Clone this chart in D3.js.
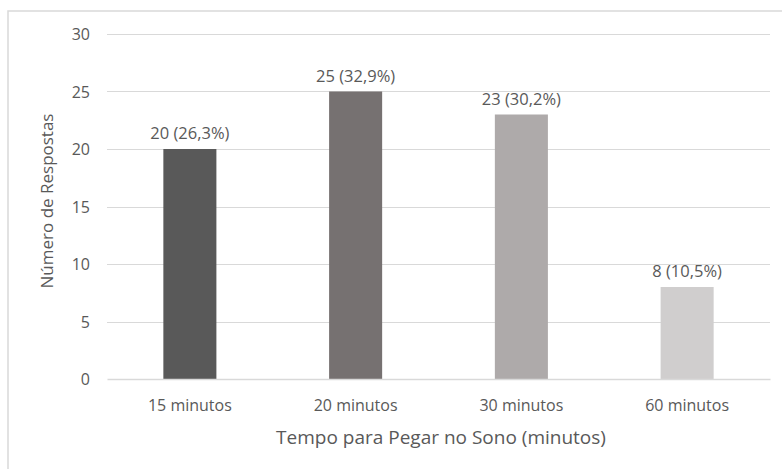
<!DOCTYPE html>
<html>
<head>
<meta charset="utf-8">
<script src="https://cdn.jsdelivr.net/npm/d3@7"></script>
<style>
  html, body { margin: 0; padding: 0; background: #fff; }
  svg { display: block; }
  text { font-family: "Open Sans", Lato, sans-serif; fill: #595959; }
</style>
</head>
<body>
<svg id="chart" width="782" height="469"></svg>
<script>
// Tempo para pegar no sono — número de respostas por categoria
const categories = ["15 minutos", "20 minutos", "30 minutos", "60 minutos"];
const responses = [20, 25, 23, 8];
const percentLabels = ["26,3%", "32,9%", "30,2%", "10,5%"];
const barColors = ["#595959", "#767171", "#AEAAAA", "#D0CECE"];
const yTicks = [0, 5, 10, 15, 20, 25, 30];

const svg = d3.select("#chart");
const W = 782, H = 469;
const plot = { left: 107, right: 770, top: 34, bottom: 379 };
const FONT = "'Open Sans', Lato, sans-serif";

// outer chart frame (open on right and bottom, runs off the canvas)
svg.append("rect")
  .attr("x", 8).attr("y", 11)
  .attr("width", W + 20).attr("height", H + 20)
  .attr("fill", "none").attr("stroke", "#d9d9d9").attr("stroke-width", 1.5);

const x = d3.scaleBand()
  .domain(categories)
  .range([plot.left, plot.right])
  .paddingInner(0.68)
  .paddingOuter(0.34);

const y = d3.scaleLinear().domain([0, 30]).range([plot.bottom, plot.top]);

// horizontal gridlines
svg.append("g")
  .selectAll("line")
  .data(yTicks.filter(d => d > 0))
  .join("line")
  .attr("x1", plot.left).attr("x2", plot.right)
  .attr("y1", d => Math.round(y(d)) + 0.5).attr("y2", d => Math.round(y(d)) + 0.5)
  .attr("stroke", "#d9d9d9").attr("stroke-width", 1);

// y axis labels (no axis line)
const yAxis = svg.append("g")
  .attr("transform", `translate(${plot.left - 17},0)`)
  .call(d3.axisLeft(y).tickValues(yTicks).tickSize(0).tickPadding(0));
yAxis.select(".domain").remove();
yAxis.selectAll("text")
  .attr("font-size", 16)
  .attr("dy", "0.36em")
  .style("font-family", FONT)
  .attr("fill", "#595959");

// bars
svg.append("g")
  .selectAll("rect")
  .data(categories)
  .join("rect")
  .attr("x", d => x(d))
  .attr("width", x.bandwidth())
  .attr("y", (d, i) => y(responses[i]))
  .attr("height", (d, i) => y(0) - y(responses[i]))
  .attr("fill", (d, i) => barColors[i]);

// x axis baseline and category labels
const xAxis = svg.append("g")
  .attr("transform", `translate(0,${plot.bottom})`)
  .call(d3.axisBottom(x).tickSize(0).tickPadding(21));
xAxis.select(".domain")
  .attr("stroke", "#d9d9d9").attr("stroke-width", 1.5);
xAxis.selectAll("text")
  .attr("font-size", 16)
  .style("font-family", FONT)
  .attr("fill", "#595959");

// data labels
svg.append("g")
  .selectAll("text")
  .data(categories)
  .join("text")
  .attr("x", d => x(d) + x.bandwidth() / 2)
  .attr("y", (d, i) => y(responses[i]) - 10)
  .attr("text-anchor", "middle")
  .attr("font-size", 16.5)
  .text((d, i) => `${responses[i]} (${percentLabels[i]})`);

// axis titles
svg.append("text")
  .attr("x", 441)
  .attr("y", 444)
  .attr("text-anchor", "middle")
  .attr("font-size", 19)
  .text("Tempo para Pegar no Sono (minutos)");

svg.append("text")
  .attr("transform", `translate(53,201) rotate(-90)`)
  .attr("text-anchor", "middle")
  .attr("font-size", 17)
  .text("Número de Respostas");
</script>
</body>
</html>
